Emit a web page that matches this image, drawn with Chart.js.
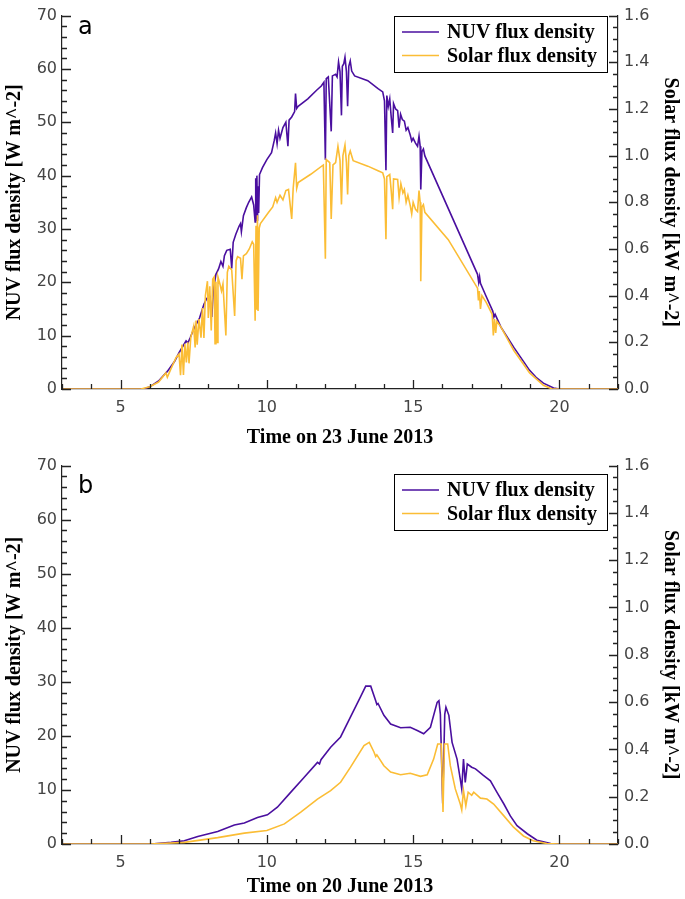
<!DOCTYPE html>
<html>
<head>
<meta charset="utf-8">
<script src="https://cdn.jsdelivr.net/npm/chart.js@4.4.0/dist/chart.umd.min.js"></script>
<style>
  body { margin: 0; background: #fff; }
  #wrap { position: relative; width: 685px; height: 899px; }
  canvas { position: absolute; left: 0; }
</style>
</head>
<body>
<div id="wrap">
  <canvas id="chartA" width="685" height="450" style="top:0"></canvas>
  <canvas id="chartB" width="685" height="449" style="top:450px"></canvas>
</div>
<script>
// tick labels
const hourTicks = [5, 10, 15, 20];
const nuvTicks = [0, 10, 20, 30, 40, 50, 60, 70];
const solarTicks = [0.0, 0.2, 0.4, 0.6, 0.8, 1.0, 1.2, 1.4, 1.6];

// panel a: 23 June 2013
const hoursNuvA = [3.0, 5.8, 6.0, 6.3, 6.6, 6.85, 7.0, 7.15, 7.24, 7.3,
  7.38, 7.5, 7.7, 7.85, 7.95, 8.05, 8.12, 8.17, 8.26, 8.35,
  8.43, 8.5, 8.55, 8.63, 8.75, 8.8, 8.85, 8.94, 9.05, 9.1,
  9.13, 9.2, 9.3, 9.38, 9.48, 9.55, 9.6, 9.62, 9.64, 9.66,
  9.68, 9.7, 9.72, 9.75, 9.85, 10.0, 10.16, 10.25, 10.3, 10.35,
  10.4, 10.45, 10.55, 10.65, 10.72, 10.76, 10.85, 10.95, 10.98, 11.02,
  11.07, 11.4, 11.7, 11.86, 11.95, 12.0, 12.03, 12.1, 12.2, 12.24,
  12.35, 12.4, 12.45, 12.5, 12.55, 12.58, 12.63, 12.67, 12.72, 12.76,
  12.8, 12.85, 12.9, 13.0, 13.45, 13.8, 13.96, 14.02, 14.07, 14.1,
  14.15, 14.2, 14.25, 14.3, 14.33, 14.4, 14.47, 14.52, 14.57, 14.63,
  14.7, 14.76, 14.82, 14.9, 14.95, 15.0, 15.08, 15.15, 15.2, 15.24,
  15.26, 15.3, 15.35, 15.4, 17.2, 17.24, 17.27, 17.3, 17.5, 17.72,
  17.76, 17.8, 18.0, 18.44, 18.98, 19.2, 19.45, 19.8, 20.0, 22.0];
const nuvA = [0, 0, 0.4, 1.5, 3.3, 5.2, 6.8, 8.2, 9.0, 8.6,
  9.6, 11.2, 13.3, 15.9, 17.0, 17.3, 13.5, 18.5, 21.5, 22.5,
  23.9, 23.0, 25.0, 26.0, 26.2, 22.6, 27.5, 29.0, 30.5, 31.0,
  29.5, 32.5, 34.0, 35.0, 36.0, 34.5, 31.3, 39.5, 32.0, 40.0,
  31.5, 38.0, 33.0, 40.2, 41.5, 43.0, 44.3, 46.5, 48.0, 46.0,
  48.5, 47.0, 49.0, 50.0, 45.5, 50.4, 51.0, 52.0, 55.4, 52.6,
  53.0, 54.4, 56.0, 56.8, 57.5, 43.0, 58.2, 58.5, 48.3, 58.7,
  59.0, 58.5, 61.3, 59.5, 51.3, 60.5, 61.0, 62.2, 59.5, 53.0,
  60.5, 61.5, 59.6, 58.7, 57.8, 56.3, 55.7, 54.0, 41.0, 55.0,
  53.0, 54.4, 51.0, 48.0, 53.5, 52.5, 52.2, 49.0, 51.5, 50.5,
  50.2, 48.5, 49.0, 47.6, 46.5, 47.0, 46.1, 45.5, 47.4, 45.5,
  37.4, 44.5, 45.0, 43.7, 21.5, 20.0, 21.0, 19.8, 17.3, 14.6,
  13.5, 14.0, 11.6, 7.8, 3.5, 2.2, 1.1, 0.2, 0, 0];

const hoursSolarA = [3.0, 5.7, 6.0, 6.3, 6.55, 6.6, 6.7, 6.9, 7.0, 7.05,
  7.1, 7.15, 7.2, 7.25, 7.3, 7.34, 7.4, 7.5, 7.55, 7.58,
  7.62, 7.68, 7.75, 7.8, 7.85, 7.9, 7.97, 8.0, 8.05, 8.1,
  8.15, 8.2, 8.23, 8.26, 8.3, 8.33, 8.4, 8.45, 8.5, 8.6,
  8.65, 8.7, 8.8, 8.9, 8.95, 9.0, 9.1, 9.15, 9.2, 9.3,
  9.4, 9.5, 9.55, 9.6, 9.63, 9.65, 9.68, 9.7, 9.74, 9.78,
  10.06, 10.2, 10.3, 10.35, 10.45, 10.55, 10.65, 10.74, 10.85, 10.9,
  10.98, 11.02, 11.07, 11.5, 11.93, 12.0, 12.03, 12.15, 12.2, 12.26,
  12.35, 12.43, 12.5, 12.55, 12.6, 12.67, 12.72, 12.76, 12.8, 12.85,
  12.95, 13.45, 13.8, 13.96, 14.02, 14.07, 14.1, 14.2, 14.25, 14.3,
  14.33, 14.47, 14.52, 14.58, 14.65, 14.7, 14.76, 14.82, 14.9, 14.95,
  15.0, 15.08, 15.15, 15.2, 15.24, 15.26, 15.3, 15.35, 15.4, 16.2,
  17.2, 17.23, 17.26, 17.3, 17.35, 17.5, 17.7, 17.74, 17.78, 17.82,
  17.86, 18.0, 18.44, 18.98, 19.45, 19.75, 22.0];
const solarA = [0, 0, 0.01, 0.03, 0.069, 0.05, 0.08, 0.135, 0.15, 0.059,
  0.19, 0.06, 0.194, 0.114, 0.2, 0.11, 0.22, 0.27, 0.178, 0.293,
  0.19, 0.3, 0.22, 0.347, 0.219, 0.4, 0.462, 0.304, 0.44, 0.251,
  0.47, 0.48, 0.194, 0.46, 0.2, 0.48, 0.448, 0.42, 0.45, 0.229,
  0.5, 0.526, 0.51, 0.313, 0.55, 0.567, 0.56, 0.47, 0.57, 0.58,
  0.6, 0.631, 0.62, 0.293, 0.7, 0.34, 0.745, 0.334, 0.69, 0.709,
  0.757, 0.78, 0.82, 0.8, 0.83, 0.81, 0.85, 0.855, 0.729, 0.86,
  0.969, 0.86, 0.885, 0.92, 0.96, 0.558, 0.983, 0.97, 0.729, 0.96,
  0.97, 1.04, 0.98, 0.791, 1.0, 1.045, 0.97, 0.834, 1.0, 1.02,
  0.978, 0.955, 0.935, 0.926, 0.9, 0.642, 0.91, 0.919, 0.85, 0.77,
  0.9, 0.898, 0.82, 0.88, 0.84, 0.855, 0.8, 0.83, 0.786, 0.75,
  0.8, 0.77, 0.76, 0.85, 0.8, 0.462, 0.78, 0.79, 0.757, 0.64,
  0.432, 0.38, 0.42, 0.343, 0.4, 0.37, 0.32, 0.229, 0.3, 0.24,
  0.29, 0.265, 0.165, 0.069, 0.016, 0, 0];

// panel b: 20 June 2013
const hoursNuvB = [3.0, 6.05, 6.73, 7.18, 7.64, 8.32, 8.89, 9.23, 9.68, 10.02,
  10.36, 10.82, 11.27, 11.73, 11.8, 11.85, 12.18, 12.52, 12.86, 13.2,
  13.38, 13.55, 13.72, 13.76, 13.8, 14.0, 14.23, 14.57, 14.9, 15.14,
  15.36, 15.59, 15.82, 15.88, 15.93, 16.01, 16.08, 16.12, 16.22, 16.33,
  16.5, 16.61, 16.66, 16.72, 16.78, 16.85, 17.0, 17.13, 17.4, 17.64,
  17.86, 18.1, 18.32, 18.55, 18.9, 19.23, 19.7, 20.0, 22.0];
const nuvB = [0, 0, 0.3, 0.6, 1.4, 2.3, 3.5, 3.9, 4.9, 5.4,
  6.8, 9.6, 12.3, 15.1, 14.8, 15.6, 17.9, 19.8, 23.5, 27.2,
  29.2, 29.2, 26.5, 25.8, 26.0, 23.8, 22.2, 21.5, 21.6, 21.0,
  20.4, 21.6, 26.2, 26.5, 24.0, 7.5, 24.0, 25.3, 23.8, 18.8,
  15.7, 12.0, 10.2, 15.7, 11.4, 14.8, 14.2, 13.9, 12.7, 11.7,
  9.6, 7.4, 5.2, 3.4, 1.9, 0.7, 0.1, 0, 0];

const hoursSolarB = [3.0, 6.0, 7.18, 8.32, 9.23, 10.0, 10.6, 11.16, 11.73, 12.18,
  12.52, 12.86, 13.32, 13.5, 13.66, 13.72, 13.76, 14.0, 14.23, 14.57,
  14.9, 15.25, 15.48, 15.7, 15.84, 15.96, 16.02, 16.07, 16.18, 16.27,
  16.44, 16.61, 16.66, 16.72, 16.8, 16.88, 17.0, 17.07, 17.3, 17.52,
  17.75, 18.1, 18.43, 18.77, 19.1, 19.57, 20.0, 22.0];
const solarB = [0, 0, 0.007, 0.027, 0.046, 0.057, 0.085, 0.135, 0.19, 0.226,
  0.261, 0.325, 0.416, 0.43, 0.389, 0.37, 0.377, 0.331, 0.304, 0.293,
  0.299, 0.286, 0.293, 0.359, 0.423, 0.423, 0.135, 0.423, 0.423, 0.331,
  0.233, 0.169, 0.144, 0.226, 0.162, 0.219, 0.206, 0.219, 0.194, 0.19,
  0.169, 0.119, 0.071, 0.034, 0.014, 0.002, 0, 0];

const nuvColor = '#4a0f9f';
const solarColor = '#fbbd35';
const axisColor = '#222';
const serif = 'Liberation Serif';
const sans = 'DejaVu Sans';

function toPoints(xs, ys) {
  return xs.map((x, i) => ({ x: x, y: ys[i] }));
}

// inward tick marks on the three axes (major 9px, minor 5px)
function drawInnerTicks(chart) {
  const ctx = chart.ctx;
  const a = chart.chartArea;
  const sx = chart.scales.x, sy = chart.scales.y, sy1 = chart.scales.y1;
  ctx.save();
  ctx.strokeStyle = axisColor;
  ctx.lineWidth = 1.3;
  ctx.beginPath();
  for (let h = 3; h <= 22; h++) {
    const px = Math.round(sx.getPixelForValue(h)) + 0.5;
    const len = h % 5 === 0 ? 9 : 5;
    ctx.moveTo(px, a.bottom);
    ctx.lineTo(px, a.bottom - len);
  }
  for (let v = 0; v <= 70; v += 2) {
    const py = Math.round(sy.getPixelForValue(v)) + 0.5;
    const len = v % 10 === 0 ? 9 : 5;
    ctx.moveTo(a.left, py);
    ctx.lineTo(a.left + len, py);
  }
  for (let i = 0; i <= 32; i++) {
    const py = Math.round(sy1.getPixelForValue(i * 0.05)) + 0.5;
    const len = i % 4 === 0 ? 9 : 5;
    ctx.moveTo(a.right, py);
    ctx.lineTo(a.right - len, py);
  }
  ctx.stroke();
  ctx.restore();
}

// ticks, boxed legend and panel letter
const panelDecor = {
  id: 'panelDecor',
  afterDraw(chart, args, opts) {
    drawInnerTicks(chart);
    const ctx = chart.ctx;
    ctx.save();
    ctx.strokeStyle = '#000';
    ctx.lineWidth = 1;
    ctx.strokeRect(opts.left + 0.5, opts.top + 0.5, opts.width, opts.height);
    ctx.font = 'bold 20px "' + serif + '"';
    ctx.textBaseline = 'middle';
    ctx.fillStyle = '#000';
    chart.data.datasets.forEach((ds, i) => {
      const y = opts.top + 16 + i * 23.5;
      ctx.strokeStyle = ds.borderColor;
      ctx.lineWidth = 1.5;
      ctx.beginPath();
      ctx.moveTo(opts.left + 8, y);
      ctx.lineTo(opts.left + 45, y);
      ctx.stroke();
      ctx.fillText(ds.label, opts.left + 53, y + 1);
    });
    ctx.font = '24px "' + sans + '"';
    ctx.textBaseline = 'alphabetic';
    ctx.fillText(opts.letter, 78, opts.letterY);
    ctx.restore();
  }
};

function makeChart(id, cfg) {
  return new Chart(document.getElementById(id), {
    type: 'line',
    data: {
      datasets: [
        { label: 'NUV flux density', data: cfg.nuv, yAxisID: 'y',
          borderColor: nuvColor, order: 1 },
        { label: 'Solar flux density', data: cfg.solar, yAxisID: 'y1',
          borderColor: solarColor, order: 0 }
      ]
    },
    options: {
      responsive: false,
      animation: false,
      devicePixelRatio: 1,
      elements: {
        point: { radius: 0 },
        line: { tension: 0, borderWidth: 1.6, fill: false }
      },
      layout: { padding: { top: cfg.top, left: 0, right: 0, bottom: 0 } },
      plugins: {
        legend: { display: false },
        tooltip: { enabled: false },
        panelDecor: { left: 394, top: cfg.legendTop, width: 213, height: 56,
          letter: cfg.letter, letterY: cfg.letterY }
      },
      scales: {
        x: {
          type: 'linear', min: 3, max: 22,
          afterBuildTicks: s => { s.ticks = hourTicks.map(v => ({ value: v })); },
          afterFit: s => { s.height = cfg.xHeight; },
          grid: { drawOnChartArea: false, drawTicks: false },
          border: { display: true, color: axisColor, width: 1.2 },
          ticks: { padding: 9, color: '#444', font: { family: sans, size: 16 } },
          title: { display: true, text: cfg.xTitle, color: '#000',
            padding: { top: 0, bottom: 0 },
            font: { family: serif, size: 20, weight: 'bold' } }
        },
        y: {
          position: 'left', min: 0, max: 70,
          afterBuildTicks: s => { s.ticks = nuvTicks.map(v => ({ value: v })); },
          afterFit: s => { s.width = 62; },
          grid: { drawOnChartArea: false, drawTicks: false },
          border: { display: true, color: axisColor, width: 1.2 },
          ticks: { padding: 5, color: '#444', font: { family: sans, size: 16 } },
          title: { display: true, text: 'NUV flux density [W m^-2]', color: '#000',
            padding: { top: 3, bottom: 0 },
            font: { family: serif, size: 20, weight: 'bold' } }
        },
        y1: {
          position: 'right', min: 0, max: 1.6,
          afterBuildTicks: s => { s.ticks = solarTicks.map(v => ({ value: v })); },
          afterFit: s => { s.width = 67; },
          grid: { drawOnChartArea: false, drawTicks: false },
          border: { display: true, color: axisColor, width: 1.2 },
          ticks: { padding: 6, color: '#444', font: { family: sans, size: 16 },
            callback: v => v.toFixed(1) },
          title: { display: true, text: 'Solar flux density [kW m^-2]', color: '#000',
            padding: { top: 3, bottom: 0 },
            font: { family: serif, size: 20, weight: 'bold' } }
        }
      }
    },
    plugins: [panelDecor]
  });
}

makeChart('chartA', {
  nuv: toPoints(hoursNuvA, nuvA),
  solar: toPoints(hoursSolarA, solarA),
  xTitle: 'Time on 23 June 2013',
  top: 11, xHeight: 61, legendTop: 16, letter: 'a', letterY: 34
});

makeChart('chartB', {
  nuv: toPoints(hoursNuvB, nuvB),
  solar: toPoints(hoursSolarB, solarB),
  xTitle: 'Time on 20 June 2013',
  top: 15, xHeight: 55, legendTop: 24, letter: 'b', letterY: 43
});
</script>
</body>
</html>
